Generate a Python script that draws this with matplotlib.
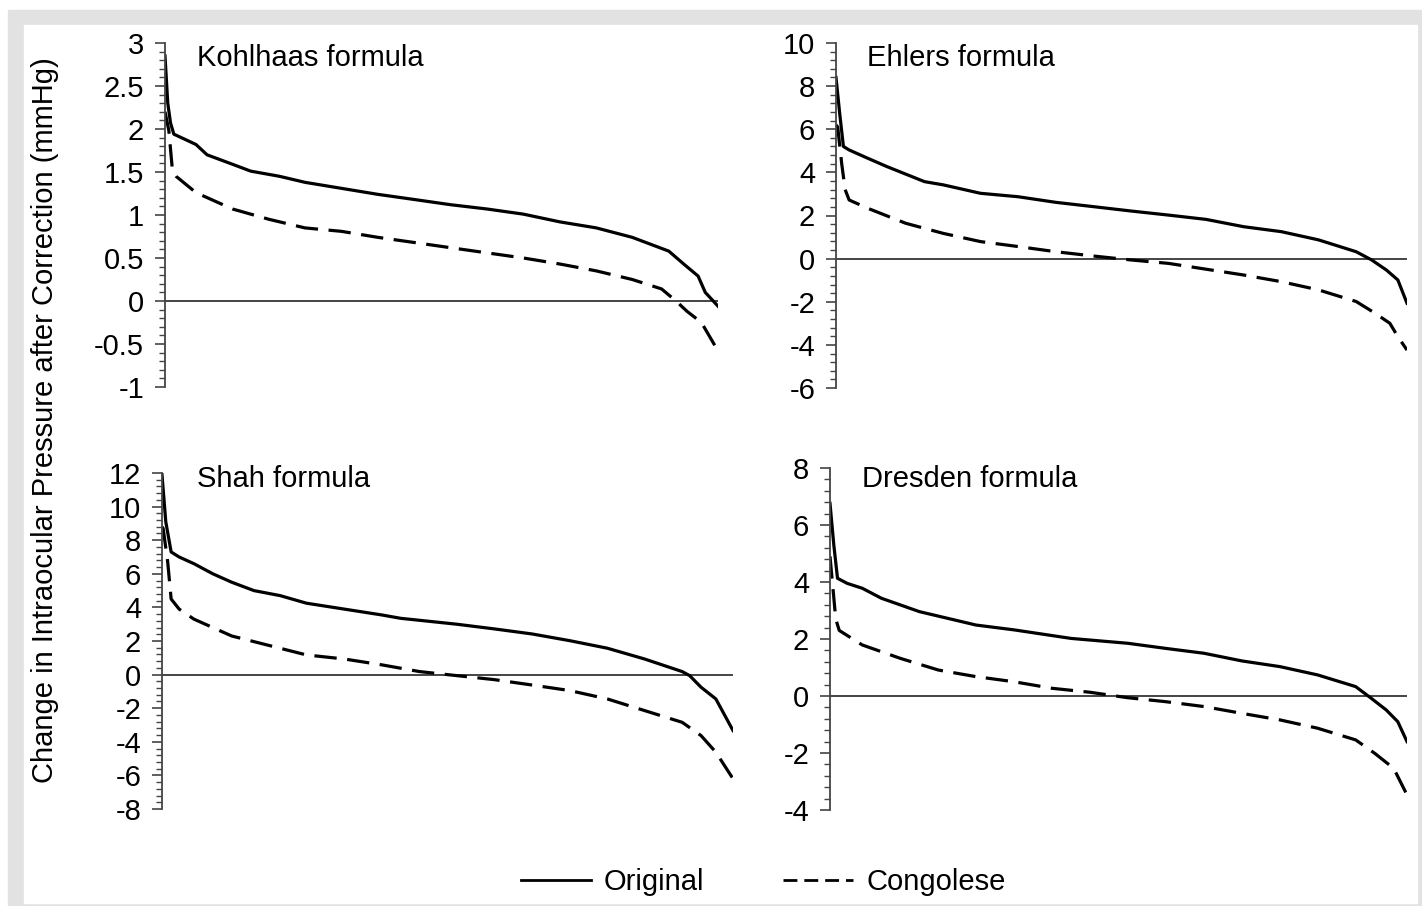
import matplotlib
matplotlib.use("Agg")
import matplotlib.pyplot as plt
from matplotlib.patches import Rectangle
from matplotlib.lines import Line2D
from matplotlib.ticker import MultipleLocator

plt.rcParams['font.family'] = ['Liberation Sans', 'DejaVu Sans']
plt.rcParams['axes.unicode_minus'] = False

# percent rank of patients (sorted by change)
kohl_orig_x = [0, 0.5, 1.0, 1.6, 5.6, 7.6, 12.2, 15.5, 20.7, 25.3, 31.9, 38.5, 45.1, 51.6,
               58.2, 64.8, 71.4, 78.0, 84.5, 91.1, 93.8, 96.4, 97.7, 100]
kohl_orig_y = [2.85, 2.3, 2.07, 1.94, 1.82, 1.70, 1.59, 1.51, 1.45, 1.38, 1.31, 1.24, 1.18, 1.12,
               1.07, 1.01, 0.92, 0.85, 0.74, 0.58, 0.43, 0.29, 0.10, -0.06]
kohl_cong_x = [0, 0.7, 1.3, 1.6, 2.0, 5.6, 12.2, 18.8, 25.3, 31.9, 38.5, 45.1, 51.6, 58.2,
               64.8, 71.4, 78.0, 84.5, 89.8, 92.4, 94.4, 97.0, 100]
kohl_cong_y = [2.2, 1.98, 1.55, 1.49, 1.45, 1.26, 1.07, 0.95, 0.85, 0.81, 0.74, 0.68, 0.62, 0.56,
               0.50, 0.43, 0.35, 0.25, 0.14, 0.0, -0.12, -0.25, -0.58]

ehl_orig_x = [0, 0.66, 1.3, 2.3, 5.6, 8.9, 15.5, 18.8, 25.3, 31.9, 38.5, 45.1, 51.6, 58.2,
              64.8, 71.4, 78.0, 84.5, 91.1, 93.8, 96.4, 98.4, 100]
ehl_orig_y = [8.4, 6.7, 5.2, 5.04, 4.65, 4.27, 3.57, 3.42, 3.03, 2.87, 2.61, 2.41, 2.21, 2.02,
              1.82, 1.48, 1.25, 0.87, 0.32, -0.06, -0.53, -0.99, -2.07]
ehl_cong_x = [0, 0.3, 1.0, 1.6, 2.3, 5.6, 12.2, 18.8, 25.3, 31.9, 38.5, 45.1, 51.6, 58.2,
              64.8, 71.4, 78.0, 84.5, 91.1, 94.4, 97.0, 98.4, 100]
ehl_cong_y = [6.2, 6.1, 4.4, 3.2, 2.72, 2.33, 1.64, 1.17, 0.79, 0.56, 0.32, 0.12, -0.06, -0.22,
              -0.49, -0.76, -1.07, -1.45, -1.99, -2.53, -3.0, -3.62, -4.24]

shah_orig_x = [0, 0.66, 1.6, 3.0, 5.6, 8.9, 12.2, 16.1, 20.7, 25.3, 31.9, 38.5, 41.8, 51.6,
               58.2, 64.8, 71.4, 78.0, 84.5, 91.1, 92.4, 94.4, 97.0, 100]
shah_orig_y = [11.9, 9.1, 7.3, 7.0, 6.6, 6.0, 5.5, 5.0, 4.7, 4.25, 3.9, 3.55, 3.35, 3.0,
               2.72, 2.42, 2.02, 1.57, 0.93, 0.18, -0.06, -0.75, -1.45, -3.33]
shah_cong_x = [0, 0.2, 1.0, 1.6, 3.0, 5.6, 12.2, 18.8, 25.3, 31.9, 38.5, 45.1, 51.6, 58.2,
               64.8, 71.4, 78.0, 84.5, 91.1, 94.4, 97.0, 100]
shah_cong_y = [8.8, 8.7, 6.7, 4.5, 3.9, 3.3, 2.3, 1.73, 1.17, 0.93, 0.58, 0.18, -0.06, -0.3,
               -0.62, -0.95, -1.45, -2.14, -2.84, -3.63, -4.62, -6.2]

dres_orig_x = [0, 0.66, 1.3, 3.0, 5.6, 8.9, 15.5, 25.3, 31.9, 41.8, 51.6, 58.2, 64.8, 71.4,
               78.0, 84.5, 91.1, 93.8, 96.4, 98.4, 100]
dres_orig_y = [6.76, 5.3, 4.13, 3.95, 3.78, 3.43, 2.96, 2.49, 2.32, 2.02, 1.85, 1.67, 1.5, 1.23,
               1.03, 0.74, 0.33, -0.08, -0.49, -0.9, -1.6]
dres_cong_x = [0, 1.0, 1.6, 5.6, 12.2, 18.8, 25.3, 31.9, 38.5, 45.1, 51.6, 58.2, 64.8, 71.4,
               78.0, 84.5, 91.1, 94.4, 97.7, 100]
dres_cong_y = [4.9, 2.7, 2.3, 1.79, 1.32, 0.91, 0.68, 0.5, 0.27, 0.13, -0.06, -0.2, -0.37, -0.61,
               -0.84, -1.13, -1.54, -2.01, -2.54, -3.47]

titles = ['Kohlhaas formula', 'Ehlers formula', 'Shah formula', 'Dresden formula']
ylims = [(-1, 3), (-6, 10), (-8, 12), (-4, 8)]
ysteps = [0.5, 2, 2, 2]

W, H = 1422, 906
FS = 21
fig = plt.figure(figsize=(W / 100, H / 100), dpi=100)

# grey frame round the picture
fig.add_artist(Rectangle((8 / W, 0), 1, 1 - 10 / H, transform=fig.transFigure,
                         color='#e1e2e1', zorder=-10))
fig.add_artist(Rectangle((24 / W, 3 / H), (1417 - 24) / W, (903 - 25) / H,
                         transform=fig.transFigure, color='white', zorder=-9))

# axes boxes in pixels: left, right, top, bottom
boxes = [(165, 718, 43, 387), (836, 1407, 43, 388), (162, 733, 473, 809), (830, 1407, 468, 810)]
title_pos = [(0.058, 0.956), (0.054, 0.957), (0.061, 0.982), (0.055, 0.968)]
series = [(kohl_orig_x, kohl_orig_y, kohl_cong_x, kohl_cong_y),
          (ehl_orig_x, ehl_orig_y, ehl_cong_x, ehl_cong_y),
          (shah_orig_x, shah_orig_y, shah_cong_x, shah_cong_y),
          (dres_orig_x, dres_orig_y, dres_cong_x, dres_cong_y)]

for i in range(4):
    l, r, t, b = boxes[i]
    ax = fig.add_axes([l / W, 1 - b / H, (r - l) / W, (b - t) / H])
    ax.patch.set_alpha(0)
    ox, oy, cx, cy = series[i]
    ax.plot(ox, oy, color='black', lw=2.3, solid_joinstyle='round')
    ax.plot(cx, cy, color='black', lw=2.3, dashes=(7, 3.3))
    ax.axhline(0, color='#444444', lw=1.4, zorder=1)
    ax.set_xlim(0, 100)
    ax.set_ylim(*ylims[i])
    ax.yaxis.set_major_locator(MultipleLocator(ysteps[i]))
    ax.yaxis.set_minor_locator(MultipleLocator(ysteps[i] / 5))
    ax.yaxis.set_major_formatter(matplotlib.ticker.FuncFormatter(lambda v, p: '%g' % v))
    for s in ['top', 'right', 'bottom']:
        ax.spines[s].set_visible(False)
    ax.spines['left'].set_color('#444444')
    ax.spines['left'].set_linewidth(1.3)
    ax.set_xticks([])
    ax.tick_params(axis='y', which='major', length=7, width=1.2, color='#444444',
                   labelsize=FS, pad=8)
    ax.tick_params(axis='y', which='minor', length=4.5, width=1.0, color='#444444')
    tx, ty = title_pos[i]
    ax.text(tx, ty, titles[i], transform=ax.transAxes, fontsize=FS, va='center', ha='left')

fig.text(45 / W, 1 - 420 / H, 'Change in Intraocular Pressure after Correction (mmHg)',
         rotation=90, fontsize=FS, ha='center', va='center')

handles = [Line2D([], [], color='black', lw=2.0),
           Line2D([], [], color='black', lw=2.0, dashes=(5, 2.5))]
fig.legend(handles, ['Original', 'Congolese'], loc='center', bbox_to_anchor=(763 / W, 24 / H),
           ncol=2, frameon=False, fontsize=FS, handlelength=2.4, columnspacing=2.7,
           handletextpad=0.45)

fig.savefig('out.png', dpi=100)
